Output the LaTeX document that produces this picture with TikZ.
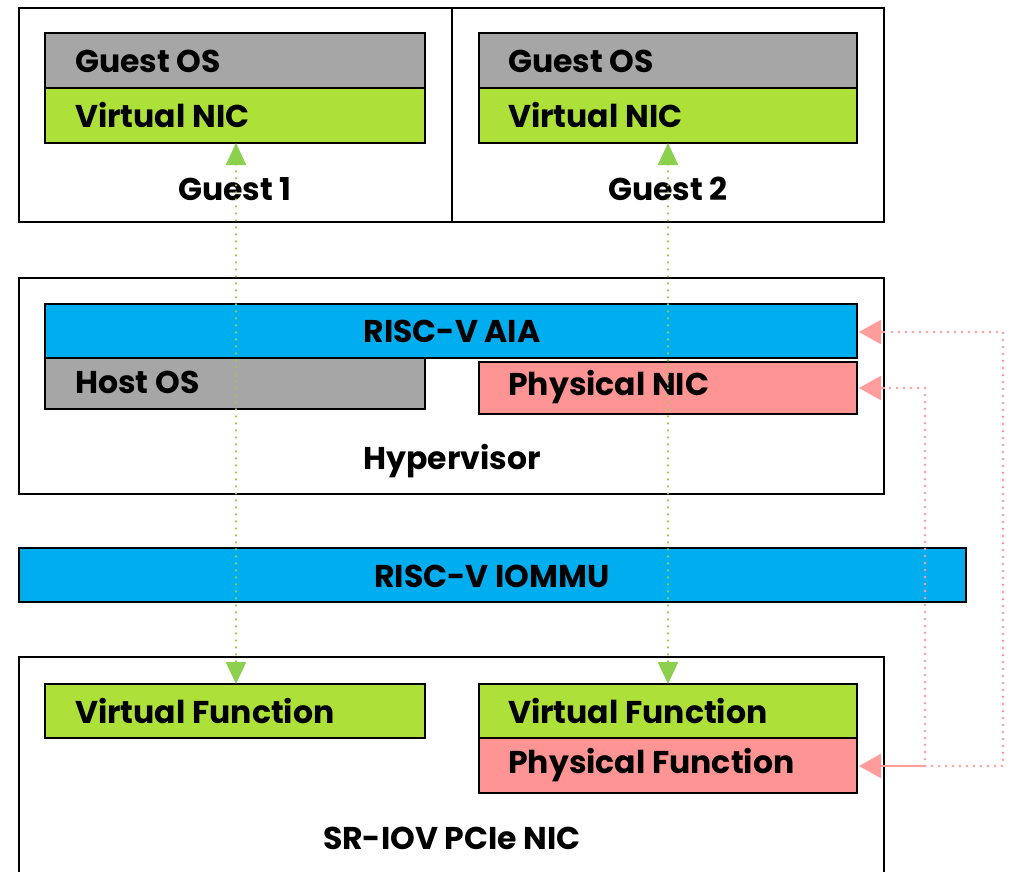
\documentclass[tikz,border=0pt]{standalone}
\usepackage{fontspec}
\setmainfont{Poppins}
\usetikzlibrary{arrows.meta}
\definecolor{osgray}{HTML}{A6A6A6}
\definecolor{nicgreen}{HTML}{AEE03A}
\definecolor{aiablue}{HTML}{00AEEF}
\definecolor{pfpink}{HTML}{FF9494}
\definecolor{linkgreen}{HTML}{8CD14E}
\definecolor{linkpink}{HTML}{FF9C9C}
\tikzset{
  frame/.style={draw=black, line width=2pt},
  blk/.style={draw=black, line width=2.6pt, inner sep=0pt},
  lbl/.style={font=\bfseries\fontsize{31.5}{33}\selectfont, text=black, inner sep=0pt},
  dots/.style={line width=2.6pt, dash pattern=on 0pt off 7pt, line cap=round},
  vlink/.style={draw=linkgreen, dots, {Triangle[length=22pt,width=20pt]}-{Triangle[length=22pt,width=20pt]}},
  plink/.style={draw=linkpink, dots},
  ptip/.style={draw=linkpink, line width=2.6pt, -{Triangle[length=22pt,width=24pt]}},
}
\begin{document}
\begin{tikzpicture}[x=1pt, y=-1pt]
\useasboundingbox (0,0) rectangle (1009,871);
\begin{scope}
\clip (0,0) rectangle (1009,871);
% outer frames
\draw[frame] (19,8) rectangle (452,222);
\draw[frame] (452,8) rectangle (884,222);
\draw[frame] (19,278) rectangle (884,494);
\draw[frame] (19,657) rectangle (884,900);

% guest 1
\path[blk, fill=osgray] (45,33) rectangle (425,88);
\path[blk, fill=nicgreen] (45,88) rectangle (425,143);
\node[lbl, anchor=west] (gos1) at (75,61) {Guest OS};
\node[lbl, anchor=west] (vnic1) at (75,115) {Virtual NIC};
\coordinate (vnic1b) at (236,143);
\node[lbl] (g1) at (235,189) {Guest 1};

% guest 2
\path[blk, fill=osgray] (479,33) rectangle (857,88);
\path[blk, fill=nicgreen] (479,88) rectangle (857,143);
\node[lbl, anchor=west] (gos2) at (508,61) {Guest OS};
\node[lbl, anchor=west] (vnic2) at (508,115) {Virtual NIC};
\coordinate (vnic2b) at (668,143);
\node[lbl] (g2) at (668,189) {Guest 2};

% hypervisor
\path[blk, fill=aiablue] (45,304) rectangle (857,358);
\node[lbl] (aia) at (452,331) {RISC-V AIA};
\path[blk, fill=osgray] (45,358) rectangle (425,409);
\node[lbl, anchor=west] (hos) at (75,382) {Host OS};
\path[blk, fill=pfpink] (479,362) rectangle (857,414);
\node[lbl, anchor=west] (pnic) at (508,387) {Physical NIC};
\node[lbl] (hv) at (452,461) {Hypervisor};

% iommu
\path[blk, fill=aiablue] (19,548) rectangle (966,602);
\node[lbl] (iommu) at (492,576) {RISC-V IOMMU};

% sr-iov nic
\path[blk, fill=nicgreen] (45,684) rectangle (425,738);
\node[lbl, anchor=west] (vf1) at (75,711) {Virtual Function};
\path[blk, fill=nicgreen] (479,684) rectangle (857,738);
\node[lbl, anchor=west] (vf2) at (508,711) {Virtual Function};
\path[blk, fill=pfpink] (479,738) rectangle (857,793);
\node[lbl, anchor=west] (pf) at (508,765) {Physical Function};
\node[lbl] (sriov) at (452,838) {SR-IOV PCIe NIC};
\coordinate (vf1t) at (236,684);
\coordinate (vf2t) at (668,684);

% virtual function <-> virtual NIC links
\draw[vlink] (vnic1b) -- (vf1t);
\draw[vlink] (vnic2b) -- (vf2t);

% physical function interrupt / control links
\coordinate (pfr) at (859,766);
\coordinate (split) at (925,766);
\coordinate (far) at (1003,766);
\coordinate (aiar) at (859,332);
\coordinate (pnicr) at (859,388);
\draw[plink] (split) -- (far) -- (1003,332) -- (885,332);
\draw[ptip] (885,332) -- (aiar);
\draw[plink] (split) -- (925,388) -- (885,388);
\draw[ptip] (885,388) -- (pnicr);
\draw[ptip] (split) -- (pfr);
\end{scope}
\end{tikzpicture}
\end{document}
